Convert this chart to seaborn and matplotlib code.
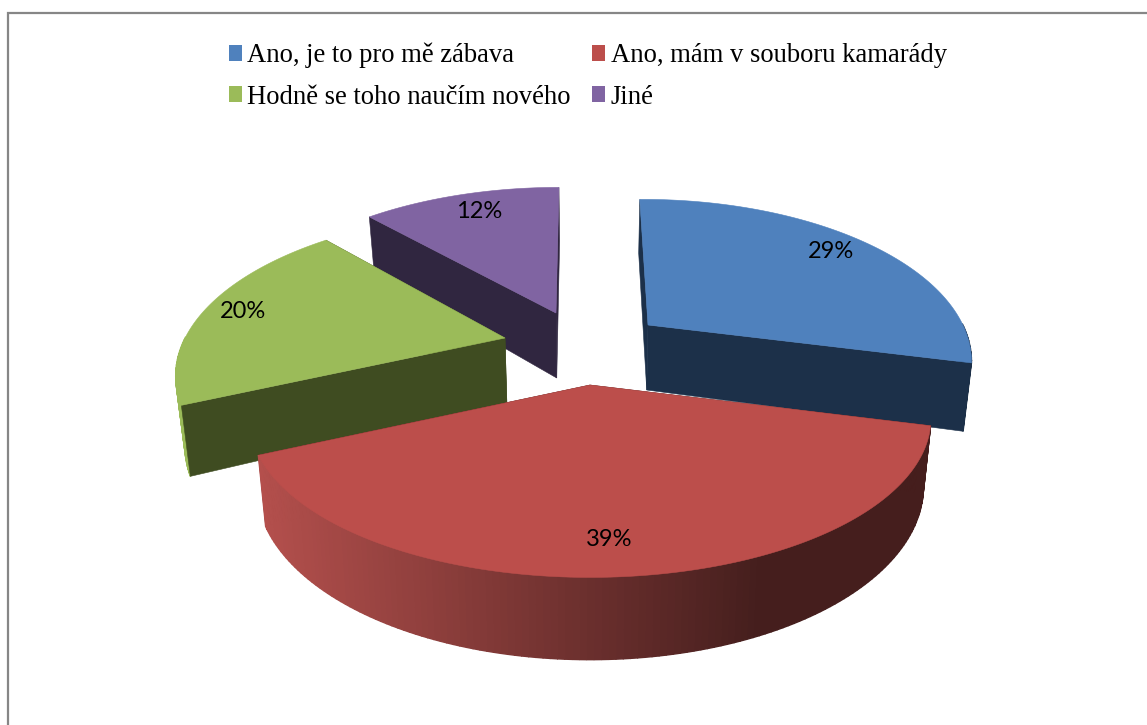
import numpy as np
import matplotlib
matplotlib.use("Agg")
import matplotlib.pyplot as plt
from matplotlib.patches import Patch, Polygon
import seaborn as sns

# data
labels = ["Ano, je to pro mě zábava", "Ano, mám v souboru kamarády",
          "Hodně se toho naučím nového", "Jiné"]
values = [29, 39, 20, 12]

# barvy
top_colors = ["#4F81BD", "#BC4E4B", "#9BBB59", "#8064A2"]
face_colors = ["#1C3049", "#4A1B19", "#3F4C21", "#302640"]
wall_light = ["#4F81BD", "#B5504D", "#9BBB59", "#8064A2"]

# vrcholy vysunutych vyseci v pixelech, sirka podle hloubky, male pootoceni
apex = [(648, 325), (590, 385), (505, 338), (556, 313)]
width_scale = [0.94, 0.995, 0.955, 0.95]
turn = [-1.0, 0.0, 1.0, -0.3]
label_pos = [(831, 251), (609, 539), (243, 311), (479, 211)]

A, B, K, H, M, VX = 335, 152, 0.21, 65, 0.022, 590
LEAN = 0.5
START = 0.3

sns.set_theme(style="white")
plt.rcParams["font.family"] = ["Lato", "DejaVu Sans"]

fig, ax = plt.subplots(figsize=(11.47, 7.25), dpi=100)
ax.set_position([0, 0, 1, 1])
ax.set_xlim(0, 1147)
ax.set_ylim(725, 0)
ax.axis("off")

# ramecek grafu (jen levy a horni okraj je videt)
ax.plot([7.5, 7.5, 1147], [725, 12.5, 12.5], color="#868686", lw=1.6,
        solid_joinstyle="miter", zorder=1)


def project(i, theta, r, d):
    """theta ve stupnich po smeru hodin od severu, d=0 horni plocha, d=1 spodni"""
    center = apex[i]
    t = np.radians(theta)
    x = r * np.sin(t)
    y = r * np.cos(t)
    s = 1 / (1 + K * y)
    lean = 1 + LEAN * (s - 1)
    sx = VX + ((center[0] - VX) * lean + A * width_scale[i] * x * s) * (1 - M * d)
    sy = center[1] - B * y * s + H * d * s
    return np.column_stack([sx, sy])


def radial_face(i, th, z):
    top = project(i, np.array([th, th]), np.array([0, 1]), 0)
    bot = project(i, np.array([th, th]), np.array([1, 0]), 1)
    ax.add_patch(Polygon(np.vstack([top, bot]), closed=True, fc=face_colors[i],
                         ec=face_colors[i], lw=0.4, zorder=z))


def draw_slice(i, t0, t1, z):
    c = apex[i]
    thetas = np.linspace(t0, t1, max(int(t1 - t0), 2))
    # steny otocene k divakovi jdou az pres plast, ostatni pod nej
    radial_face(i, t0, z + (0.15 if np.sin(np.radians(t0)) < 0 else 0))
    radial_face(i, t1, z + (0.15 if np.sin(np.radians(t1)) > 0 else 0))
    # vnejsi plast s prechodem podle polohy, jen predni polovina
    pal = sns.blend_palette([wall_light[i], "#000000"], 256)
    for a0, a1 in zip(thetas[:-1], thetas[1:]):
        if np.cos(np.radians((a0 + a1) / 2)) > 0:
            continue
        pts = np.vstack([project(i, np.array([a0, a1]), 1, 0),
                         project(i, np.array([a1, a0]), 1, 1)])
        pos = (pts[:, 0].mean() - (VX - A)) / (2 * A)
        col = pal[int(np.clip(pos / 0.75, 0, 1) * 0.62 * 255)]
        ax.add_patch(Polygon(pts, closed=True, fc=col, ec=col, lw=1.0, zorder=z + 0.1))
    # horni plocha
    rim = project(i, thetas, 1, 0)
    ax.add_patch(Polygon(np.vstack([[c], rim]), closed=True, fc=top_colors[i],
                         ec=top_colors[i], lw=0.4, zorder=z + 0.2))


angles = np.cumsum([0] + values) / sum(values) * 360 + START
order = [3, 0, 2, 1]  # odzadu dopredu
for z, i in enumerate(order):
    draw_slice(i, angles[i] + turn[i], angles[i + 1] + turn[i], 2 + z)

for i, v in enumerate(values):
    ax.text(label_pos[i][0], label_pos[i][1], f"{v}%", ha="center", va="center",
            fontsize=17, color="black", zorder=10)

handles = [Patch(fc=c, ec="none") for c in top_colors]
# matplotlib plni legendu po sloupcich, proto prehozene poradi
leg_order = [0, 2, 1, 3]
ax.legend([handles[i] for i in leg_order], [labels[i] for i in leg_order],
          ncol=2, loc="upper left", bbox_to_anchor=(221 / 1147, 1 - 35 / 725),
          bbox_transform=ax.transAxes, frameon=False, labelcolor="black",
          prop={"family": "Liberation Serif", "size": 19.2},
          handlelength=0.49, handleheight=0.52, handletextpad=0.2,
          columnspacing=0.8, labelspacing=0.6, borderpad=0.3, borderaxespad=0)

fig.savefig("out.png", dpi=100, facecolor="white")
